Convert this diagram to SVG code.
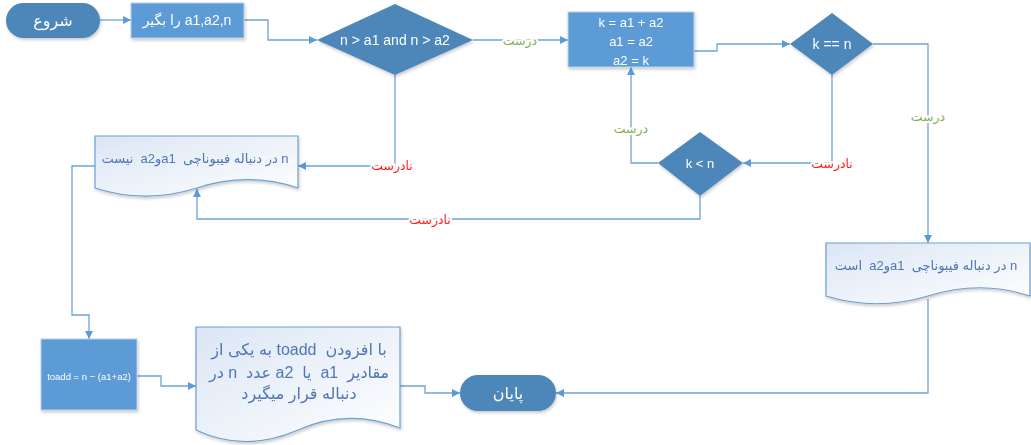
<svg xmlns="http://www.w3.org/2000/svg" width="1031" height="445" viewBox="0 0 1031 445">
<style>
.term{fill:#4d87ba;}
.dia{fill:#4d87ba;}
.proc{fill:#5b9bd5;stroke:#b9cfe7;stroke-width:1;}
.doc{fill:url(#dg);stroke:#6c9fd4;stroke-width:1.2;}
.wt{fill:#ffffff;font-family:"Liberation Sans","DejaVu Sans",sans-serif;text-anchor:middle;dominant-baseline:central;}
.dt{fill:#4f76b5;font-family:"Liberation Sans","DejaVu Sans",sans-serif;text-anchor:middle;dominant-baseline:central;direction:rtl;unicode-bidi:embed;white-space:pre;}
.rtl{direction:rtl;unicode-bidi:embed;}
.con path{fill:none;stroke:#6fa3d8;stroke-width:1.3;marker-end:url(#ah);}
.lbl{font-family:"DejaVu Sans",sans-serif;font-size:12.5px;text-anchor:middle;dominant-baseline:central;direction:rtl;unicode-bidi:embed;stroke:#ffffff;stroke-width:4;paint-order:stroke;}
.ok{fill:#7fb24f;}
.no{fill:#ff1a1a;}
</style>
<defs>
<linearGradient id="dg" x1="0" y1="0" x2="1" y2="1">
<stop offset="0" stop-color="#dbe6f4"/>
<stop offset="1" stop-color="#ffffff"/>
</linearGradient>
<marker id="ah" viewBox="0 0 10 10" refX="10" refY="5" markerWidth="8" markerHeight="8" markerUnits="userSpaceOnUse" orient="auto">
<path d="M0,0 L10,5 L0,10 Z" fill="#5b9bd5"/>
</marker>
<filter id="sh" x="-10%" y="-10%" width="130%" height="140%">
<feDropShadow dx="1" dy="2" stdDeviation="1.5" flood-color="#000" flood-opacity="0.2"/>
</filter>
</defs>

<g id="connectors" class="con">
<path d="M100,20 H131"/>
<path d="M244,20 H268 V40 H317"/>
<path d="M473,40 H568"/>
<path d="M694,51 H717 V44 H790"/>
<path d="M873,44 H928 V243"/>
<path d="M832,75 V163 H743"/>
<path d="M658,163 H631 V67"/>
<path d="M700,196 V219 H197 V189"/>
<path d="M395,75 V166 H298"/>
<path d="M95,166 H72 V315 H89 V339"/>
<path d="M137,376 H161 V386 H196"/>
<path d="M400,386 H425 V393 H460"/>
<path d="M928,299 V393 H556"/>
</g>

<g id="labels">
<text class="lbl ok" x="520" y="40">درست</text>
<text class="lbl ok" x="928" y="116">درست</text>
<text class="lbl ok" x="631" y="128">درست</text>
<text class="lbl no" x="832" y="163">نادرست</text>
<text class="lbl no" x="392" y="165">نادرست</text>
<text class="lbl no" x="430" y="219">نادرست</text>
</g>

<g id="start" filter="url(#sh)">
<rect class="term" x="6" y="3" width="94" height="35" rx="17.5"/>
<text class="wt rtl" x="53" y="20" font-size="16">شروع</text>
</g>

<g id="input" filter="url(#sh)">
<rect class="proc" x="131" y="3" width="113" height="35"/>
<text class="wt rtl" x="187" y="20" font-size="14">a1,a2,n را بگیر</text>
</g>

<g id="cond1" filter="url(#sh)">
<polygon class="dia" points="395,4 473,40 395,75 317,40"/>
<text class="wt" x="395" y="40" font-size="14">n &gt; a1 and n &gt; a2</text>
</g>

<g id="calc" filter="url(#sh)">
<rect class="proc" x="568" y="12" width="126" height="55"/>
<text class="wt" x="631" y="22" font-size="13">k = a1 + a2</text>
<text class="wt" x="631" y="41" font-size="13">a1 = a2</text>
<text class="wt" x="631" y="60" font-size="13">a2 = k</text>
</g>

<g id="cond2" filter="url(#sh)">
<polygon class="dia" points="832,13 873,44 832,75 790,44"/>
<text class="wt" x="832" y="44" font-size="14">k == n</text>
</g>

<g id="cond3" filter="url(#sh)">
<polygon class="dia" points="700,132 743,163 700,196 658,163"/>
<text class="wt" x="700" y="163" font-size="13">k &lt; n</text>
</g>

<g id="notfib" filter="url(#sh)">
<path class="doc" d="M95,136 H298 V188 C262,176 228,178 197,188 C168,197 135,201 95,188 Z"/>
<text class="dt" x="195" y="158" font-size="13" xml:space="preserve">n در دنباله فیبوناچی  a1وa2  نیست</text>
</g>

<g id="isfib" filter="url(#sh)">
<path class="doc" d="M826,243 H1030 V296 C994,284 960,286 928,296 C898,305 865,308 826,296 Z"/>
<text class="dt" x="926" y="265" font-size="13" xml:space="preserve">n در دنباله فیبوناچی  a1وa2  است</text>
</g>

<g id="toadd" filter="url(#sh)">
<rect class="proc" x="41" y="339" width="96" height="71"/>
<text class="wt" x="89" y="376" font-size="9.5">toadd = n − (a1+a2)</text>
</g>

<g id="result" filter="url(#sh)">
<path class="doc" d="M196,327 H400 V428 C364,414 330,416 298,430 C266,444 232,447 196,430 Z"/>
<text class="dt" x="299" y="349" font-size="16" xml:space="preserve">با افزودن  toadd به یکی از</text>
<text class="dt" x="299" y="372" font-size="16" xml:space="preserve">مقادیر  a1  یا  a2 عدد  n در</text>
<text class="dt" x="299" y="393" font-size="16" xml:space="preserve">دنباله قرار میگیرد</text>
</g>

<g id="end" filter="url(#sh)">
<rect class="term" x="460" y="375" width="96" height="36" rx="18"/>
<text class="wt rtl" x="508" y="393" font-size="16">پایان</text>
</g>
</svg>
